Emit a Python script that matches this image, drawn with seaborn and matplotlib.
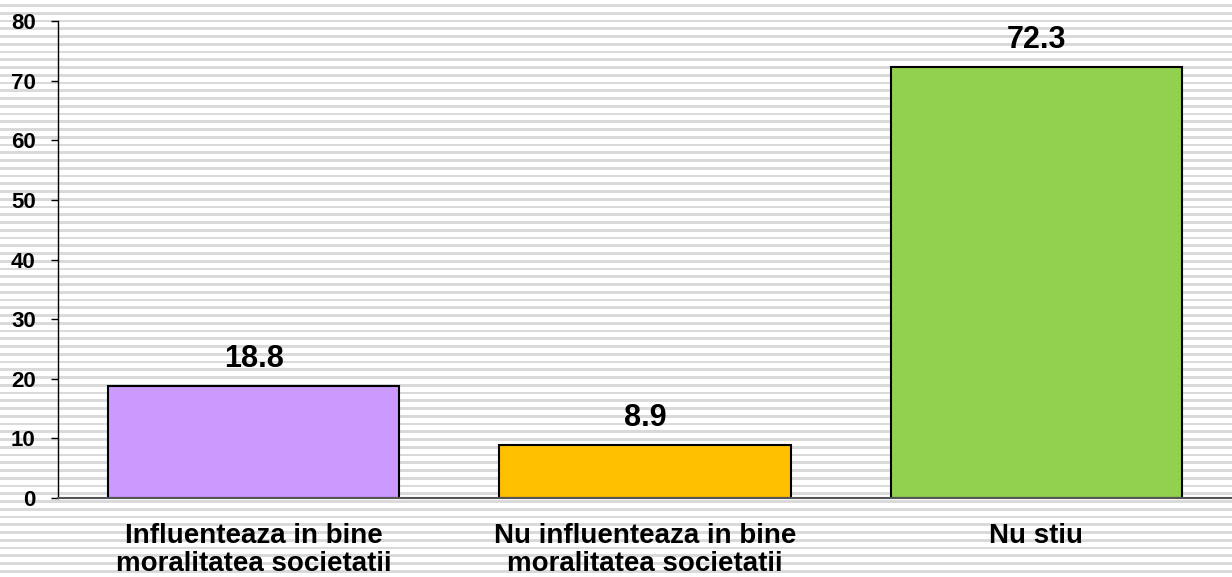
import numpy as np
import pandas as pd
import seaborn as sns
import matplotlib.pyplot as plt

categories = ['Influenteaza in bine\nmoralitatea societatii',
              'Nu influenteaza in bine\nmoralitatea societatii',
              'Nu stiu']
values = [18.8, 8.9, 72.3]
colors = ['#cc99ff', '#ffc000', '#92d050']
yticks = [0, 10, 20, 30, 40, 50, 60, 70, 80]

df = pd.DataFrame({'cat': categories, 'val': values})

sns.set_style('white')
plt.rcParams['font.family'] = ['Liberation Sans', 'DejaVu Sans']
plt.rcParams['font.weight'] = 'bold'
plt.rcParams['text.color'] = 'black'
plt.rcParams['xtick.labelcolor'] = 'black'
plt.rcParams['ytick.labelcolor'] = 'black'

fig = plt.figure(figsize=(12.32, 5.77), dpi=100)

# striped background
bg = fig.add_axes([0, 0, 1, 1], zorder=-1)
bg.set_xlim(0, 1)
bg.set_ylim(577, 0)
for y in np.arange(5.5, 577, 7.75):
    bg.axhspan(y - 1.45, y + 1.45, color='#dadada', lw=0)
bg.axis('off')

ax = fig.add_axes([58 / 1232, 1 - 498 / 577, 1 - 58 / 1232, (498 - 21) / 577])
ax.patch.set_alpha(0)
sns.barplot(data=df, x='cat', y='val', hue='cat', palette=colors, legend=False,
            width=0.745, edgecolor='black', linewidth=1.5, saturation=1, ax=ax)

for i, v in enumerate(values):
    ax.text(i, v + 3.2, f'{v}', ha='center', va='baseline', fontsize=22, fontweight='bold')

ax.set_xlim(-0.5, 2.5)
ax.set_ylim(0, 80)
ax.set_yticks(yticks)
ax.set_yticklabels([str(t) for t in yticks], fontsize=16, fontweight='bold')
ax.set_xticks([-0.5, 0.5, 1.5, 2.5], minor=True)
ax.tick_params(axis='x', which='major', length=0, labelsize=20, pad=18)
ax.tick_params(axis='x', which='minor', length=8, width=1, color='#555555', direction='out')
ax.tick_params(axis='y', length=5, width=1, color='black', direction='out', left=True, pad=11)
for lab in ax.get_xticklabels():
    lab.set_fontweight('bold')
    lab.set_linespacing(1.1)
ax.set_xlabel('')
ax.set_ylabel('')

for s in ['top', 'right']:
    ax.spines[s].set_visible(False)
ax.spines['left'].set_color('black')
ax.spines['left'].set_linewidth(1)
ax.spines['bottom'].set_color('#555555')
ax.spines['bottom'].set_linewidth(1.5)

fig.savefig('out.png', dpi=100)
